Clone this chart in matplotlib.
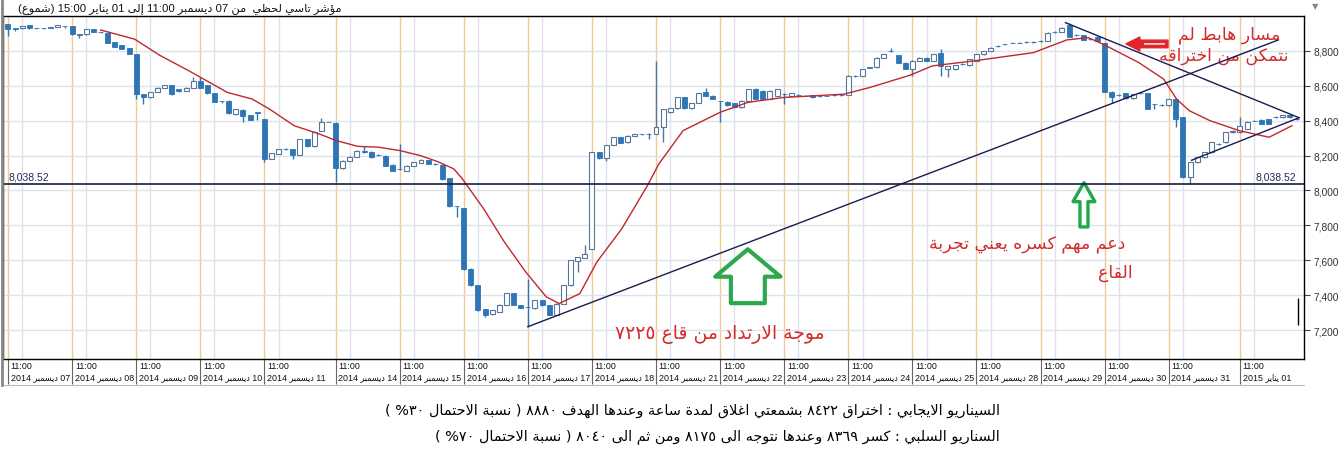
# -*- coding: utf-8 -*-
"""مؤشر تاسي لحظي - شموع نصف ساعة مع متوسط متحرك وخطوط اتجاه"""

import numpy as np
import matplotlib
matplotlib.use("Agg")
import matplotlib.pyplot as plt
import matplotlib.transforms as mtransforms
from matplotlib.lines import Line2D

# -----------------------------
# البيانات (مقروءة من الرسم)
# -----------------------------
opens = [8952, 8929, 8929, 8947, 8933, 8931, 8935, 8937, 8943,
         8943, 8895, 8895, 8924, 8910, 8901, 8851, 8832, 8815,
         8781, 8552, 8533, 8566, 8587, 8604, 8581, 8571, 8590,
         8625, 8604, 8558, 8514, 8514, 8438, 8463, 8432, 8448,
         8409, 8181, 8209, 8238, 8238, 8204, 8295, 8253, 8343, 8394,
         8387, 8128, 8169, 8192, 8229, 8223, 8205, 8200, 8147,
         8125, 8114, 8143, 8158, 8175, 8153, 8147, 8070, 7911,
         7899, 7552, 7457, 7320, 7291, 7305, 7346, 7413, 7343,
         7334, 7324, 7371, 7343, 7289, 7352, 7457, 7594, 7613,
         7667, 8219, 8185, 8261, 8305, 8276, 8314, 8325, 8324,
         8324, 8362, 8448, 8470, 8533, 8470, 8501, 8562, 8543,
         8515, 8509, 8501, 8476, 8514, 8581, 8571, 8524, 8543,
         8553, 8543, 8548, 8544, 8547, 8540, 8544, 8548, 8547,
         8547, 8658, 8657, 8705, 8705, 8762, 8800, 8775, 8733,
         8695, 8743, 8762, 8743, 8787, 8695, 8695, 8724, 8718,
         8743, 8781, 8800, 8829, 8838, 8848, 8847, 8851, 8850,
         8857, 8857, 8909, 8909, 8947, 8890, 8890, 8870, 8882,
         8848, 8566, 8548, 8558, 8528, 8558, 8558, 8496, 8490,
         8489, 8524, 8419, 8076, 8162, 8190, 8219, 8268, 8276, 8333,
         8333, 8352, 8401, 8406, 8409, 8420, 8419, 8432, 8410]
closes = [8928, 8927, 8943, 8929, 8931, 8930, 8934, 8947, 8941,
          8895, 8893, 8924, 8909, 8908, 8848, 8825, 8810, 8785,
          8552, 8533, 8562, 8590, 8604, 8552, 8569, 8590, 8625,
          8590, 8558, 8509, 8511, 8442, 8467, 8429, 8406, 8446,
          8181, 8215, 8238, 8237, 8204, 8295, 8253, 8337, 8390, 8393,
          8128, 8171, 8194, 8229, 8219, 8190, 8204, 8143, 8114,
          8124, 8143, 8162, 8177, 8152, 8151, 8063, 7910, 7909,
          7548, 7457, 7314, 7289, 7314, 7346, 7413, 7346, 7327,
          7332, 7371, 7343, 7289, 7352, 7457, 7600, 7619, 7638,
          8219, 8185, 8261, 8305, 8272, 8314, 8324, 8323, 8323,
          8362, 8467, 8470, 8533, 8470, 8501, 8558, 8543, 8524,
          8513, 8489, 8476, 8514, 8581, 8524, 8524, 8571, 8581,
          8551, 8558, 8547, 8543, 8533, 8539, 8543, 8547, 8546,
          8657, 8657, 8695, 8704, 8762, 8781, 8799, 8733, 8699,
          8743, 8762, 8743, 8781, 8714, 8714, 8718, 8723, 8752,
          8781, 8800, 8819, 8828, 8837, 8847, 8848, 8850, 8851,
          8856, 8905, 8908, 8933, 8882, 8889, 8863, 8869, 8857,
          8566, 8533, 8547, 8528, 8552, 8557, 8467, 8494, 8489,
          8524, 8409, 8076, 8162, 8190, 8219, 8276, 8267, 8333, 8343,
          8371, 8394, 8400, 8381, 8381, 8419, 8432, 8419, 8409]
highs = [8955, 8929, 8945, 8949, 8933, 8931, 8939, 8948, 8943,
         8945, 8895, 8926, 8926, 8910, 8903, 8853, 8834, 8817,
         8783, 8555, 8564, 8592, 8606, 8606, 8583, 8592, 8648,
         8648, 8607, 8560, 8514, 8516, 8469, 8465, 8434, 8448,
         8411, 8217, 8240, 8243, 8240, 8297, 8297, 8339, 8413, 8395,
         8390, 8173, 8196, 8231, 8257, 8225, 8210, 8202, 8149,
         8267, 8145, 8164, 8179, 8177, 8155, 8149, 8072, 7911,
         7901, 7554, 7459, 7322, 7316, 7348, 7415, 7415, 7345,
         7495, 7373, 7373, 7345, 7354, 7459, 7602, 7621, 7686,
         8221, 8221, 8263, 8307, 8307, 8316, 8326, 8325, 8328,
         8743, 8469, 8472, 8535, 8535, 8503, 8560, 8590, 8545,
         8515, 8511, 8503, 8516, 8583, 8590, 8573, 8573, 8583,
         8558, 8560, 8552, 8548, 8549, 8544, 8548, 8552, 8551,
         8659, 8662, 8697, 8709, 8764, 8783, 8814, 8777, 8735,
         8745, 8764, 8764, 8783, 8810, 8716, 8720, 8728, 8754,
         8783, 8802, 8821, 8833, 8842, 8852, 8852, 8855, 8855,
         8861, 8907, 8913, 8935, 8960, 8894, 8892, 8874, 8884,
         8850, 8568, 8552, 8560, 8554, 8562, 8560, 8496, 8494,
         8526, 8526, 8421, 8164, 8192, 8221, 8278, 8272, 8335, 8345,
         8419, 8396, 8405, 8408, 8411, 8424, 8434, 8434, 8414]
lows = [8886, 8914, 8927, 8928, 8924, 8924, 8930, 8936, 8933,
        8893, 8876, 8893, 8907, 8903, 8845, 8823, 8808, 8782,
        8524, 8495, 8530, 8563, 8585, 8547, 8566, 8569, 8588,
        8587, 8555, 8505, 8501, 8440, 8435, 8394, 8403, 8406,
        8162, 8178, 8207, 8233, 8181, 8202, 8251, 8251, 8341, 8390,
        8048, 8125, 8167, 8190, 8217, 8188, 8198, 8140, 8110,
        8120, 8112, 8141, 8156, 8150, 8148, 8060, 7907, 7848,
        7545, 7454, 7310, 7276, 7288, 7302, 7343, 7343, 7325,
        7219, 7320, 7340, 7286, 7286, 7350, 7455, 7533, 7611,
        7664, 8183, 8171, 8259, 8270, 8274, 8312, 8318, 8295,
        8322, 8280, 8446, 8468, 8468, 8468, 8499, 8541, 8522,
        8394, 8487, 8474, 8474, 8512, 8522, 8522, 8522, 8541,
        8495, 8541, 8543, 8539, 8531, 8535, 8539, 8543, 8542,
        8545, 8653, 8655, 8700, 8703, 8760, 8795, 8731, 8697,
        8657, 8741, 8741, 8741, 8657, 8648, 8693, 8719, 8716,
        8741, 8779, 8798, 8824, 8833, 8843, 8843, 8846, 8846,
        8852, 8855, 8904, 8907, 8880, 8885, 8861, 8865, 8855,
        8564, 8501, 8543, 8526, 8526, 8553, 8465, 8467, 8485,
        8487, 8362, 8074, 8038, 8160, 8188, 8217, 8263, 8274, 8331,
        8331, 8350, 8396, 8379, 8379, 8415, 8417, 8417, 8405]

# المتوسط المتحرك (الخط الأحمر)
ma_idx = [13, 17.8, 21.3, 25.4, 30.8, 34.3, 36.7, 40.2, 43.7, 46.1, 49.1, 52,
          55, 57.9, 60.3, 62.6, 63.8, 66.8, 69.7, 72.7, 75.6, 77.4, 80.3, 82.7,
          86.2, 89.8, 91.4, 94.8, 100, 103.9, 108.9, 117.4, 121, 126.7, 129.8,
          135.7, 144, 148.7, 151.7, 153.8, 158.8, 162.3, 164.1, 165.9, 168.8,
          172.9, 177.1, 180.3]
ma_val = [8920, 8867, 8775, 8686, 8562, 8524, 8467, 8371, 8324, 8286, 8253, 8248,
          8229, 8200, 8166, 8124, 8067, 7895, 7705, 7533, 7390, 7352, 7409, 7590,
          7781, 8028, 8152, 8343, 8448, 8505, 8533, 8552, 8590, 8661, 8714,
          8743, 8790, 8863, 8876, 8838, 8733, 8638, 8524, 8457, 8400,
          8343, 8305, 8371]

# خطوط الاتجاه
rise_x, rise_y = [73, 178.4], [7219, 8863]
fall_x, fall_y = [148.5, 181.3], [8962, 8417]
low_x, low_y = [166.2, 181.3], [8173, 8417]
support = 8038.52
cursor_x, cursor_lo, cursor_hi = 181.2, 7229, 7383

# بداية كل يوم (رقم الشمعة) والتسميات
day_idx = [0, 9, 18, 27, 36, 46, 55, 64, 73, 82, 91, 100, 109, 118, 127, 136,
           145, 154, 163, 173]
day_lbl = ["07", "08", "09", "10", "11", "14", "15", "16", "17", "18", "21", "22",
           "23", "24", "25", "28", "29", "30", "31", "01"]
yticks = [7200, 7400, 7600, 7800, 8000, 8200, 8400, 8600, 8800]

# -----------------------------
# تشكيل النص العربي (بدون مكتبات خارجية)
# -----------------------------
AR_FORMS = {
    0x0621: (0xFE80, 1), 0x0622: (0xFE81, 2), 0x0623: (0xFE83, 2), 0x0624: (0xFE85, 2),
    0x0625: (0xFE87, 2), 0x0626: (0xFE89, 4), 0x0627: (0xFE8D, 2), 0x0628: (0xFE8F, 4),
    0x0629: (0xFE93, 2), 0x062A: (0xFE95, 4), 0x062B: (0xFE99, 4), 0x062C: (0xFE9D, 4),
    0x062D: (0xFEA1, 4), 0x062E: (0xFEA5, 4), 0x062F: (0xFEA9, 2), 0x0630: (0xFEAB, 2),
    0x0631: (0xFEAD, 2), 0x0632: (0xFEAF, 2), 0x0633: (0xFEB1, 4), 0x0634: (0xFEB5, 4),
    0x0635: (0xFEB9, 4), 0x0636: (0xFEBD, 4), 0x0637: (0xFEC1, 4), 0x0638: (0xFEC5, 4),
    0x0639: (0xFEC9, 4), 0x063A: (0xFECD, 4), 0x0641: (0xFED1, 4), 0x0642: (0xFED5, 4),
    0x0643: (0xFED9, 4), 0x0644: (0xFEDD, 4), 0x0645: (0xFEE1, 4), 0x0646: (0xFEE5, 4),
    0x0647: (0xFEE9, 4), 0x0648: (0xFEED, 2), 0x0649: (0xFEEF, 2), 0x064A: (0xFEF1, 4),
}
LAM_ALEF = {0x0622: 0xFEF5, 0x0623: 0xFEF7, 0x0625: 0xFEF9, 0x0627: 0xFEFB}
MIRROR = {"(": ")", ")": "("}


def _kind(ch):
    if ch is None:
        return 0
    return AR_FORMS.get(ord(ch), (0, 0))[1]


def shape(s):
    out = []
    i = 0
    while i < len(s):
        c = s[i]
        prev = s[i - 1] if i > 0 else None
        nxt = s[i + 1] if i + 1 < len(s) else None
        jp = _kind(prev) == 4
        if ord(c) == 0x0644 and nxt is not None and ord(nxt) in LAM_ALEF:
            out.append(chr(LAM_ALEF[ord(nxt)] + (1 if jp else 0)))
            i += 2
            continue
        if ord(c) in AR_FORMS:
            base, k = AR_FORMS[ord(c)]
            jn = k == 4 and _kind(nxt) >= 2
            if k == 1:
                form = 0
            elif jp and jn:
                form = 3
            elif jn:
                form = 2
            elif jp:
                form = 1
            else:
                form = 0
            out.append(chr(base + form))
        else:
            out.append(c)
        i += 1
    return "".join(out)


def ar(s):
    """تشكيل + ترتيب مرئي من اليمين لليسار"""
    s = shape(s)
    kinds = []
    for c in s:
        o = ord(c)
        if 0x0660 <= o <= 0x0669:
            kinds.append("AN")
        elif c.isdigit():
            kinds.append("EN")
        elif 0x0600 <= o <= 0x06FF or 0xFE70 <= o <= 0xFEFF:
            kinds.append("R")
        elif c.isalpha():
            kinds.append("L")
        else:
            kinds.append("N")
    for k in range(1, len(s) - 1):
        if s[k] in ",.:" and kinds[k - 1] == kinds[k + 1] and kinds[k - 1] in ("EN", "AN"):
            kinds[k] = kinds[k - 1]
    lev = [2 if t in ("L", "EN", "AN") else 1 for t in kinds]
    chars = list(reversed(list(zip(s, lev))))
    res = []
    k = 0
    while k < len(chars):
        if chars[k][1] == 2:
            j = k
            while j < len(chars) and chars[j][1] == 2:
                j += 1
            res.extend(c for c, _ in reversed(chars[k:j]))
            k = j
        else:
            c = chars[k][0]
            res.append(MIRROR.get(c, c))
            k += 1
    return "".join(res)


# -----------------------------
# الرسم
# -----------------------------
plt.rcParams["font.family"] = ["DejaVu Sans"]
NUMF = ["Liberation Sans", "DejaVu Sans"]
FILL = "#2E75B6"
HOLLOW = "#56769A"
RED = "#D22B2B"
GREEN = "#2DA84C"

W, H = 1340, 460
fig = plt.figure(figsize=(W / 100, H / 100), dpi=100)
ax = fig.add_axes([3 / W, 1 - 360 / H, (1304 - 3) / W, (360 - 17) / H])

o = np.array(opens, float)
c = np.array(closes, float)
hi = np.array(highs, float)
lo = np.array(lows, float)
x = np.arange(len(o))
up = c >= o

# شبكة: خطوط الأيام البرتقالية + خطوط رمادية
for d in day_idx:
    ax.axvline(d, color="#EFCB99", lw=1, zorder=0)
    ax.axvline(d + 2, color="#DDE3EC", lw=1, zorder=0)
for v in yticks:
    ax.axhline(v, color="#DDE3EC", lw=1, zorder=0)

# الشموع
ax.vlines(x, lo, hi, colors=np.where(up, HOLLOW, FILL), lw=1, zorder=2)
ax.bar(x[~up], (o - c)[~up], bottom=c[~up], width=0.7, color=FILL,
       edgecolor=FILL, lw=0.6, zorder=3)
ax.bar(x[up], (c - o)[up], bottom=o[up], width=0.7, facecolor="white",
       edgecolor=HOLLOW, lw=0.8, zorder=3)

# المتوسط المتحرك وخطوط الاتجاه
ax.plot(ma_idx, ma_val, color="#C0282D", lw=1, zorder=4)
for xs, ys in ((rise_x, rise_y), (fall_x, fall_y), (low_x, low_y)):
    ax.plot(xs, ys, color="#1A1A50", lw=1, zorder=4)
ax.axhline(support, color="#1A1A40", lw=1.2, zorder=4)
ax.vlines(cursor_x, cursor_lo, cursor_hi, color="black", lw=1, zorder=4)

ax.text(0.1, support + 12, f"{support:,.2f}", fontsize=7.5, color="#1F2A5A",
        family=NUMF, ha="left", va="bottom")
ax.text(180.9, support + 12, f"{support:,.2f}", fontsize=7.5, color="#1F2A5A",
        family=NUMF, ha="right", va="bottom")

# التعليقات
ax.text(178.7, 8897, ar("مسار هابط لم"), color=RED, fontsize=12.5, ha="right", va="center")
ax.text(179.8, 8777, ar("نتمكن من اختراقه"), color=RED, fontsize=12.5, ha="right", va="center")
ax.text(156.9, 7691, ar("دعم مهم كسره يعني تجربة"), color=RED, fontsize=12.5,
        ha="right", va="center")
ax.text(157.9, 7531, ar("القاع"), color=RED, fontsize=12.5, ha="right", va="center")
ax.text(114.7, 7183, ar("موجة الارتداد من قاع ٧٢٢٥"), color=RED, fontsize=13.5,
        ha="right", va="center")

ax.annotate("", xy=(157.0, 8840), xytext=(162.9, 8840),
            arrowprops=dict(arrowstyle="simple,head_length=1.0,head_width=1.0,tail_width=0.55",
                            color="#E0262B", shrinkA=0, shrinkB=0, mutation_scale=10))
ax.annotate("", xy=(159.6, 8840), xytext=(162.4, 8840),
            arrowprops=dict(arrowstyle="-", color="white", lw=1, shrinkA=0, shrinkB=0))
ax.annotate("", xy=(103.9, 7663), xytext=(103.9, 7354),
            arrowprops=dict(arrowstyle="simple,head_length=0.42,head_width=1.0,tail_width=0.52",
                            facecolor="white", edgecolor=GREEN, lw=3, shrinkA=0,
                            shrinkB=0, mutation_scale=47))
ax.annotate("", xy=(151.1, 8045), xytext=(151.1, 7791),
            arrowprops=dict(arrowstyle="simple,head_length=1.0,head_width=1.15,tail_width=0.42",
                            facecolor="white", edgecolor="#22A84A", lw=2.4, shrinkA=0,
                            shrinkB=0, mutation_scale=13.7))

# المحاور
ax.set_xlim(-0.7, 182.0)
ax.set_ylim(7034, 9000)
ax.yaxis.tick_right()
ax.set_yticks(yticks)
ax.set_yticklabels([f"{v:,}" for v in yticks], family=NUMF)
ax.tick_params(axis="y", length=4, color="#444", labelsize=7.3, labelcolor="#333", pad=3)

ax.set_xticks(day_idx)
xl = []
for k, d in enumerate(day_lbl):
    month, year = ("يناير", "2015") if k == len(day_lbl) - 1 else ("ديسمبر", "2014")
    xl.append("11:00\n" + ar(f"{d} {month} {year}"))
ax.set_xticklabels(xl, family=NUMF, fontsize=6.4, color="#111", linespacing=1.25,
                   fontstretch="condensed")
ax.tick_params(axis="x", length=18, width=0.8, color="#666", pad=-16.5)
off = mtransforms.ScaledTranslation(2 / 72, 0, fig.dpi_scale_trans)
for lab in ax.get_xticklabels():
    lab.set_horizontalalignment("left")
    lab.set_verticalalignment("top")
    lab.set_transform(lab.get_transform() + off)

for sp in ax.spines.values():
    sp.set_color("black")
    sp.set_linewidth(1)

fig.add_artist(Line2D([3 / W, 1304 / W], [1 - 386 / H] * 2, color="#BBBBBB", lw=0.8))
fig.add_artist(Line2D([1.5 / W, 1.5 / W], [1 - 386 / H, 1], color="#888888", lw=2))

# العنوان والنص السفلي
fig.text(18 / W, 1 - 9 / H, ar("مؤشر تاسي لحظي  من 07 ديسمبر 11:00 إلى 01 يناير 15:00 (شموع)"),
         fontsize=8.2, ha="left", va="center", color="#111", family=NUMF)
fig.text(1312 / W, 1 - 7 / H, "▼", fontsize=6, color="#888", ha="left", va="center")

fig.text(1000 / W, 1 - 411 / H,
         ar("السيناريو الايجابي : اختراق ٨٤٢٢ بشمعتي اغلاق لمدة ساعة وعندها الهدف ٨٨٨٠ ( نسبة الاحتمال ٣٠% )"),
         fontsize=10.4, ha="right", va="center", color="black")
fig.text(1000 / W, 1 - 437 / H,
         ar("السناريو السلبي : كسر ٨٣٦٩ وعندها نتوجه الى ٨١٧٥ ومن ثم الى ٨٠٤٠ ( نسبة الاحتمال ٧٠% )"),
         fontsize=10.4, ha="right", va="center", color="black")

fig.savefig("out.png", dpi=100, facecolor="white")
